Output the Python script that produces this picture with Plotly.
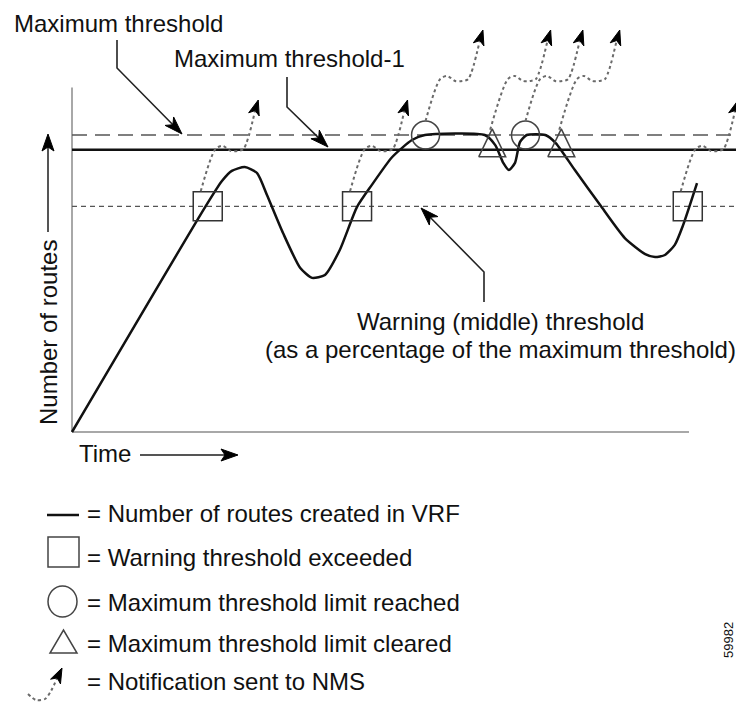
import math
import plotly.graph_objects as go

# ---------------- data ----------------
time_units = [0, 21.6, 24.3, 25.9, 28.0, 30.0, 31.6, 34.2, 37.0, 38.9, 41.0, 43.4, 46.2,
              48.6, 51.9, 55.1, 57.2, 66.9, 68.6, 69.9, 70.8, 71.8, 72.6, 73.7, 76.7,
              78.4, 81.5, 85.6, 89.6, 92.9, 94.5, 96.1, 97.7, 99.0, 101.3]
routes_created = [0, 75.8, 84.5, 87.9, 89.2, 87.2, 79.8, 67.0, 55.2, 51.9, 52.9, 61.3, 75.8,
                  83.2, 92.6, 98.3, 100, 100, 96.6, 90.6, 88.2, 90.6, 97.6, 100, 100,
                  97.3, 88.2, 76.4, 65.3, 59.9, 58.9, 59.6, 63.0, 69.4, 83.8]
max_threshold = 100
max_threshold_minus_1 = 95
warning_threshold = 76
time_axis_end = 100
routes_axis_end = 116
warning_exceeded_t = [22.0, 46.2, 99.8]
max_reached_t = [57.3, 73.5]
max_cleared_t = [68.1, 79.3]
notification_t = [22.0, 46.2, 57.3, 68.1, 73.5, 79.3, 99.8]
notification_event = ["warning", "warning", "reached", "cleared", "reached", "cleared", "warning"]
legend_labels = ["= Number of routes created in VRF", "= Warning threshold exceeded",
                 "= Maximum threshold limit reached", "= Maximum threshold limit cleared",
                 "= Notification sent to NMS"]
figure_id = "59982"

# ---------------- layout helpers (page pixel <-> data) ----------------
W, H = 744, 702          # page size
PAGE_OFF = 8             # default body margin of the html page
FW, FH = W - PAGE_OFF, H - PAGE_OFF
OX, OY, SX, SY = 72, 432, 6.17, 2.97


def X(px):
    return (px - OX) / SX


def Y(py):
    return (OY - py) / SY


def PX(t):
    return OX + t * SX


def PY(r):
    return OY - r * SY


def head(tip, frm, L=15, hw=5.5, notch=4):
    tx, ty = tip
    dx, dy = tx - frm[0], ty - frm[1]
    n = math.hypot(dx, dy)
    ux, uy = dx / n, dy / n
    nx, ny = -uy, ux
    bx, by = tx - L * ux, ty - L * uy
    pts = [(tx, ty), (bx + hw * nx, by + hw * ny), (tx - (L - notch) * ux, ty - (L - notch) * uy),
           (bx - hw * nx, by - hw * ny), (tx, ty)]
    return pts, (tx - (L - notch) * ux, ty - (L - notch) * uy)


heads_x, heads_y = [], []


def add_head(pts):
    for p in pts:
        heads_x.append(X(p[0]))
        heads_y.append(Y(p[1]))
    heads_x.append(None)
    heads_y.append(None)


fig = go.Figure()
shapes = []

# axes lines
shapes.append(dict(type="line", xref="x", yref="y", x0=0, x1=0, y0=0, y1=routes_axis_end,
                   line=dict(color="#a8a8a8", width=2), layer="below"))
shapes.append(dict(type="line", xref="x", yref="y", x0=0, x1=time_axis_end, y0=0, y1=0,
                   line=dict(color="#a8a8a8", width=2), layer="below"))
# thresholds
for val, dash, color, width in [(max_threshold, "15px,8px", "#555555", 1.5),
                                (max_threshold_minus_1, "solid", "#111111", 2.5),
                                (warning_threshold, "5px,4px", "#555555", 1.3)]:
    shapes.append(dict(type="line", xref="x", yref="y", x0=0, x1=X(W), y0=val, y1=val,
                       line=dict(color=color, width=width, dash=dash), layer="below"))

# curve
fig.add_trace(go.Scatter(x=time_units, y=routes_created, mode="lines",
                         line=dict(color="#111111", width=2.5, shape="spline", smoothing=0.6),
                         hoverinfo="skip", showlegend=False))

# warning squares
fig.add_trace(go.Scatter(x=warning_exceeded_t, y=[warning_threshold] * len(warning_exceeded_t),
                         mode="markers",
                         marker=dict(symbol="square-open", size=29, color="#333333", line=dict(width=1.5)),
                         hoverinfo="skip", showlegend=False))
# max reached circles
fig.add_trace(go.Scatter(x=max_reached_t, y=[max_threshold] * len(max_reached_t),
                         mode="markers",
                         marker=dict(symbol="circle-open", size=28, color="#444444", line=dict(width=1.5)),
                         hoverinfo="skip", showlegend=False))
# cleared triangles
tx, ty = [], []
for t in max_cleared_t:
    cx = PX(t)
    ly = PY(max_threshold_minus_1)
    for px, py in [(cx - 13.5, ly + 7), (cx + 13.5, ly + 7), (cx, ly - 21), (cx - 13.5, ly + 7)]:
        tx.append(X(px))
        ty.append(Y(py))
    tx.append(None)
    ty.append(None)
fig.add_trace(go.Scatter(x=tx, y=ty, mode="lines", line=dict(color="#444444", width=1.5),
                         hoverinfo="skip", showlegend=False))

# notifications
nx_, ny_ = [], []
for t, kind in zip(notification_t, notification_event):
    cx = PX(t)
    if kind == "warning":
        x0, y0 = cx - 7, PY(warning_threshold) - 15
        y1 = PY(max_threshold_minus_1) - 1
        ytip = 100
    elif kind == "reached":
        x0, y0 = cx, PY(max_threshold) - 14
        y1, ytip = 79, 30
    else:
        x0, y0 = cx - 2, PY(max_threshold_minus_1) - 20
        y1, ytip = 79, 30
    xa = x0 + 0.35 * (y0 - y1)
    wave = [(xa, y1), (xa + 7, y1 - 3), (xa + 15, y1 + 2), (xa + 22, y1 + 2), (xa + 28, y1)]
    xe = xa + 28
    tip = (xe + 0.3 * (y1 - ytip), ytip)
    pts, base = head(tip, (xe, y1), L=15, hw=5.5)
    add_head(pts)
    for p in [(x0, y0)] + wave + [base]:
        nx_.append(X(p[0]))
        ny_.append(Y(p[1]))
    nx_.append(None)
    ny_.append(None)

# legend notification icon
leg_path = [(28, 694), (36, 700), (45, 699), (51, 691)]
pts, base = head((62, 668), (51, 691), L=15, hw=5.5)
add_head(pts)
for p in leg_path + [base]:
    nx_.append(X(p[0]))
    ny_.append(Y(p[1]))
nx_.append(None)
ny_.append(None)

fig.add_trace(go.Scatter(x=nx_, y=ny_, mode="lines",
                         line=dict(color="#6a6a6a", width=2, dash="dot", shape="spline", smoothing=0.8),
                         hoverinfo="skip", showlegend=False))

# label arrows
lx, ly_ = [], []
for poly, tip in [([(117, 40), (117, 68)], (182, 134)),
                  ([(287, 77), (287, 107)], (328, 147)),
                  ([(484, 302), (484, 272)], (421, 208))]:
    pts, base = head(tip, poly[-1], L=18, hw=6, notch=5)
    add_head(pts)
    for p in poly + [base]:
        lx.append(X(p[0]))
        ly_.append(Y(p[1]))
    lx.append(None)
    ly_.append(None)
fig.add_trace(go.Scatter(x=lx, y=ly_, mode="lines", line=dict(color="#222222", width=1.6),
                         hoverinfo="skip", showlegend=False))

# axis title arrows
ax_, ay_ = [], []
for start, tip in [((48, 232), (48, 134)), ((140, 455), (238, 455))]:
    pts, base = head(tip, start, L=17, hw=6, notch=4)
    add_head(pts)
    for p in [start, base]:
        ax_.append(X(p[0]))
        ay_.append(Y(p[1]))
    ax_.append(None)
    ay_.append(None)
fig.add_trace(go.Scatter(x=ax_, y=ay_, mode="lines", line=dict(color="#555555", width=2),
                         hoverinfo="skip", showlegend=False))

fig.add_trace(go.Scatter(x=heads_x, y=heads_y, mode="lines", fill="toself", fillcolor="#000000",
                         line=dict(color="#000000", width=1), hoverinfo="skip", showlegend=False))

# legend icons
shapes.append(dict(type="line", xref="x", yref="y", x0=X(47), x1=X(79), y0=Y(515), y1=Y(515),
                   line=dict(color="#111111", width=2.5)))
shapes.append(dict(type="rect", xref="x", yref="y", x0=X(48), x1=X(79), y0=Y(537), y1=Y(567),
                   line=dict(color="#444444", width=1.5)))
shapes.append(dict(type="circle", xref="x", yref="y", x0=X(48), x1=X(77), y0=Y(586), y1=Y(617),
                   line=dict(color="#444444", width=1.5)))
shapes.append(dict(type="path", xref="x", yref="y",
                   path="M{},{} L{},{} L{},{} Z".format(X(50), Y(653), X(77), Y(653), X(63.5), Y(630)),
                   line=dict(color="#444444", width=1.5)))

annotations = []
FONT = "Liberation Sans, Arial, sans-serif"


def txt(text, px, py, size=24, anchor="left", angle=0):
    annotations.append(dict(text=text, xref="paper", yref="paper",
                            x=(px - PAGE_OFF) / FW, y=1 - (py - PAGE_OFF) / FH,
                            xanchor=anchor, yanchor="middle", showarrow=False, textangle=angle,
                            font=dict(family=FONT, size=size, color="#111111")))


txt("Maximum threshold", 12, 23)
txt("Maximum threshold-1", 172, 59)
txt("Warning (middle) threshold", 500, 322, anchor="center")
txt("(as a percentage of the maximum threshold)", 500, 349, anchor="center")
txt("Time", 77, 454)
txt("Number of routes", 48, 333, anchor="center", angle=-90)
for lab, yy in zip(legend_labels, [513, 557, 602, 643, 681]):
    txt(lab, 85, yy, size=24)
txt(figure_id, 728, 640, size=13, anchor="center", angle=-90)

fig.update_layout(
    width=FW, height=FH, autosize=False,
    margin=dict(l=0, r=0, t=0, b=0),
    paper_bgcolor="white", plot_bgcolor="white",
    xaxis=dict(range=[X(PAGE_OFF), X(W)], visible=False, fixedrange=True),
    yaxis=dict(range=[Y(H), Y(PAGE_OFF)], visible=False, fixedrange=True),
    shapes=shapes, annotations=annotations, showlegend=False,
)

fig.write_html("out.html")
